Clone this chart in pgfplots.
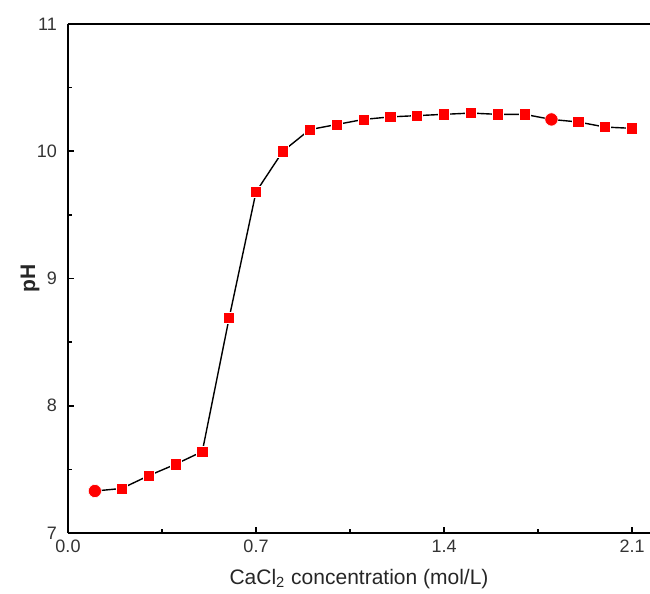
\documentclass[border=0pt]{standalone}
\usepackage{pgfplots}
\pgfplotsset{compat=1.18}
\usepackage{fontspec}
\setmainfont{Liberation Sans}
\begin{document}
\begin{tikzpicture}
\begin{axis}[
  scale only axis, width=291pt, height=254.5pt,
  xmin=0, xmax=2.167, ymin=7, ymax=11,
  axis x line*=box, axis y line*=left,
  axis line style={-, line width=1pt, black},
  xtick={0,0.7,1.4,2.1}, minor x tick num=1,
  ytick={7,8,9,10,11}, minor y tick num=1,
  xtick pos=bottom, ytick pos=left,
  tick align=inside,
  major tick length=3.2pt, minor tick length=1.8pt,
  tick style={line width=0.8pt, black},
  xticklabel style={/pgf/number format/.cd, fixed, fixed zerofill, precision=1},
  yticklabel style={xshift=-2pt},
  /pgf/number format/assume math mode=true,
  tick label style={font=\fontsize{9}{10}\selectfont, text=black!80},
  xlabel={CaCl\textsubscript{2} concentration (mol/L)},
  ylabel={\textbf{pH}},
  label style={font=\fontsize{10.5}{12}\selectfont, text=black!85},
  xlabel style={at={(axis description cs:0.5,-0.09)}, anchor=center},
  ylabel style={at={(axis description cs:-0.065,0.5)}, anchor=center, rotate=0},
]
\addplot[black, line width=0.7pt] coordinates {
(0.1,7.33) (0.2,7.35) (0.3,7.45) (0.4,7.54) (0.5,7.64) (0.6,8.69) (0.7,9.68)
(0.8,10.00) (0.9,10.17) (1.0,10.21) (1.1,10.25) (1.2,10.27) (1.3,10.28) (1.4,10.29)
(1.5,10.30) (1.6,10.29) (1.7,10.29) (1.8,10.25) (1.9,10.23) (2.0,10.19) (2.1,10.18)
};
\addplot[only marks, mark=square*, mark size=2.8pt, mark options={fill=red, draw=white, line width=0.3pt}] coordinates {
(0.2,7.35) (0.3,7.45) (0.4,7.54) (0.5,7.64) (0.6,8.69) (0.7,9.68)
(0.8,10.00) (0.9,10.17) (1.0,10.21) (1.1,10.25) (1.2,10.27) (1.3,10.28) (1.4,10.29)
(1.5,10.30) (1.6,10.29) (1.7,10.29) (1.9,10.23) (2.0,10.19) (2.1,10.18)
};
\addplot[only marks, mark=*, mark size=3.3pt, mark options={fill=red, draw=white, line width=0.3pt}] coordinates {
(0.1,7.33) (1.8,10.25)
};
\end{axis}
\pgfresetboundingbox
\path[use as bounding box] ([xshift=-34pt,yshift=-30pt]current axis.south west) rectangle ([yshift=12pt]current axis.north east);
\end{tikzpicture}
\end{document}
